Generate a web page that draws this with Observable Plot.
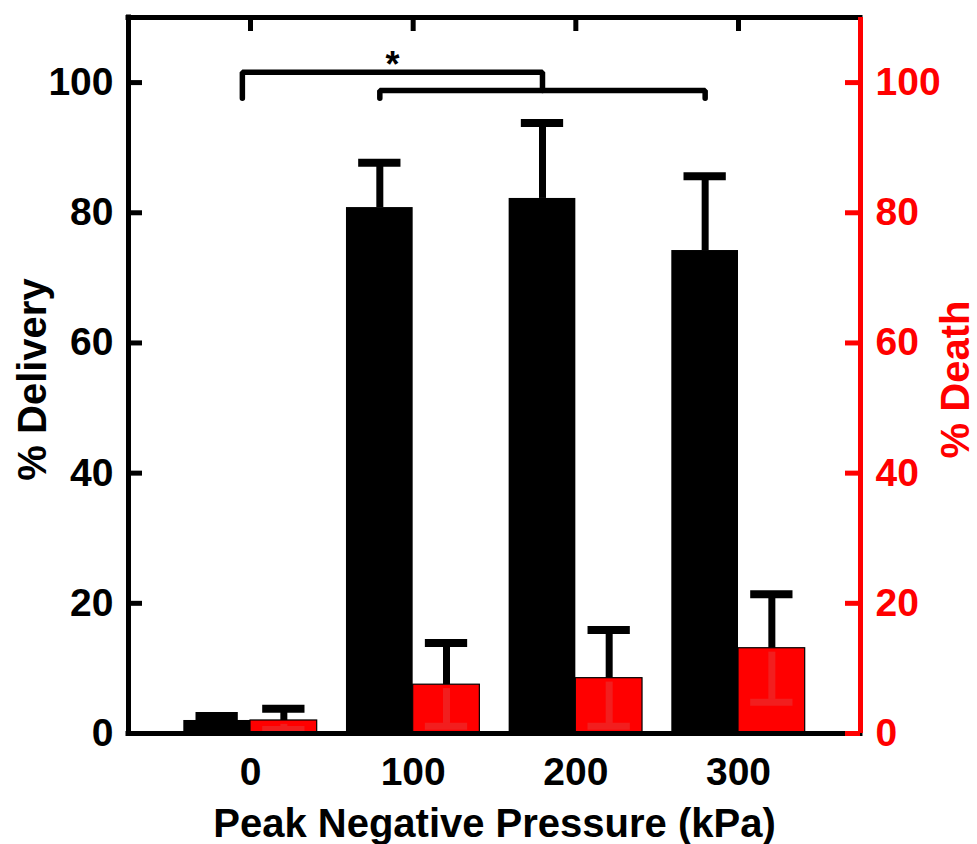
<!DOCTYPE html>
<html>
<head>
<meta charset="utf-8">
<script src="https://cdn.jsdelivr.net/npm/d3@7"></script>
<script src="https://cdn.jsdelivr.net/npm/@observablehq/plot@0.6"></script>
<style>
  html, body { margin: 0; padding: 0; background: #fff; }
  #chart { width: 977px; height: 844px; }
</style>
</head>
<body>
<div id="chart"></div>
<script>
// ---- data ----
const categories = ["0", "100", "200", "300"];
const delivery = [2.0, 80.8, 82.2, 74.2];
const deliveryErr = [0.7, 6.9, 11.6, 11.4];
const death = [2.0, 7.5, 8.5, 13.1];
const deathErr = [1.8, 6.4, 7.4, 8.3];
const yTicks = [0, 20, 40, 60, 80, 100];
const xTitle = "Peak Negative Pressure (kPa)";
const yLeftTitle = "% Delivery";
const yRightTitle = "% Death";
const brackets = [
  {fromCat: "0", fromBar: "center", toCat: "200", toBar: "delivery", level: 101.6, fromFoot: 97.6, toFoot: 98.8, label: "*"},
  {fromCat: "100", fromBar: "delivery", toCat: "300", toBar: "delivery", level: 98.8, fromFoot: 97.6, toFoot: 97.6, label: ""}
];

// ---- layout ----
const W = 977, H = 844;
const mL = 128, mR = 117, mT = 17, mB = 111;
const plotW = W - mL - mR, plotH = H - mT - mB;
const xDomain = [-0.75, 3.75];
const yDomain = [0, 110];
const barW = 0.41;
const capW = 0.13;
const RED = "#ff0000";
const LIGHTRED = "rgb(242,30,30)";
const FONT = "'Liberation Sans', Arial, Helvetica, sans-serif";

const rows = categories.map((c, i) => ({
  cat: c, i,
  del: delivery[i], delErr: deliveryErr[i],
  dth: death[i], dthErr: deathErr[i]
}));
const idx = c => categories.indexOf(c);
const barCenter = (c, which) => idx(c) + (which === "delivery" ? -barW / 2 : which === "death" ? barW / 2 : -0.05);

const bracketPts = [];
brackets.forEach((b, k) => {
  const xa = barCenter(b.fromCat, b.fromBar), xb = barCenter(b.toCat, b.toBar);
  bracketPts.push({k, x: xa, y: b.fromFoot}, {k, x: xa, y: b.level}, {k, x: xb, y: b.level}, {k, x: xb, y: b.toFoot});
});
const bracketLabels = brackets.filter(b => b.label).map(b => ({
  text: b.label,
  x: (barCenter(b.fromCat, b.fromBar) + barCenter(b.toCat, b.toBar)) / 2,
  y: b.level
}));

const chart = Plot.plot({
  width: W, height: H,
  marginLeft: mL, marginRight: mR, marginTop: mT, marginBottom: mB,
  style: {fontFamily: FONT, background: "#fff", overflow: "visible"},
  x: {domain: xDomain, axis: null},
  y: {domain: yDomain, axis: null},
  marks: [
    // black error bars (upper)
    Plot.ruleX(rows, {x: d => d.i - barW / 2, y1: d => d.del, y2: d => d.del + d.delErr, stroke: "black", strokeWidth: 7}),
    Plot.ruleY(rows, {y: d => d.del + d.delErr, x1: d => d.i - barW / 2 - capW, x2: d => d.i - barW / 2 + capW, stroke: "black", strokeWidth: 8}),
    // black bars
    Plot.rectY(rows, {x1: d => d.i - barW, x2: d => d.i, y1: 0, y2: d => d.del, fill: "black"}),
    // red error bars (upper, black)
    Plot.ruleX(rows, {x: d => d.i + barW / 2, y1: d => d.dth, y2: d => d.dth + d.dthErr, stroke: "black", strokeWidth: 7}),
    Plot.ruleY(rows, {y: d => d.dth + d.dthErr, x1: d => d.i + barW / 2 - capW, x2: d => d.i + barW / 2 + capW, stroke: "black", strokeWidth: 8}),
    // red bars
    Plot.rectY(rows, {x1: d => d.i, x2: d => d.i + barW, y1: 0, y2: d => d.dth, fill: RED, stroke: "black", strokeWidth: 1.2}),
    // lower whiskers inside red bars
    Plot.ruleX(rows, {x: d => d.i + barW / 2, y1: d => d.dth - 0.6, y2: d => Math.max(0.3, d.dth - d.dthErr), stroke: LIGHTRED, strokeWidth: 7}),
    Plot.ruleY(rows, {y: d => Math.max(0.6, d.dth - d.dthErr), x1: d => d.i + barW / 2 - capW, x2: d => d.i + barW / 2 + capW, stroke: LIGHTRED, strokeWidth: 7}),
    // frame
    Plot.ruleY([yDomain[1]], {stroke: "black", strokeWidth: 5, strokeLinecap: "square"}),
    Plot.ruleY([0], {stroke: "black", strokeWidth: 5, strokeLinecap: "square"}),
    Plot.ruleX([xDomain[0]], {stroke: "black", strokeWidth: 5, strokeLinecap: "square"}),
    Plot.ruleX([xDomain[1]], {stroke: RED, strokeWidth: 5}),
    // inward ticks
    Plot.ruleY(yTicks, {stroke: "black", strokeWidth: 5, insetRight: plotW - 14}),
    Plot.ruleY(yTicks, {stroke: RED, strokeWidth: 5, insetLeft: plotW - 15}),
    Plot.ruleX(categories.map((c, i) => i), {stroke: "black", strokeWidth: 5, insetBottom: plotH - 14}),
    // significance brackets
    Plot.line(bracketPts, {x: "x", y: "y", z: "k", stroke: "black", strokeWidth: 5.5, strokeLinejoin: "miter", strokeLinecap: "round"}),
    Plot.text(bracketLabels, {x: "x", y: "y", text: "text", lineAnchor: "top", dy: -21, fontSize: 36, fontWeight: "bold", fill: "black"}),
    // axes
    Plot.axisY({anchor: "left", ticks: yTicks, tickSize: 0, tickPadding: 15, fontSize: 39, fontWeight: "bold", fill: "black", label: null}),
    Plot.axisY({anchor: "right", ticks: yTicks, tickSize: 0, tickPadding: 15, fontSize: 39, fontWeight: "bold", fill: RED, label: null}),
    Plot.axisX({ticks: [0, 1, 2, 3], tickFormat: i => categories[i], tickSize: 0, tickPadding: 24, fontSize: 39, fontWeight: "bold", fill: "black", label: null}),
    // titles
    Plot.text([xTitle], {frameAnchor: "bottom", dy: 75, lineAnchor: "top", fontSize: 40, fontWeight: "bold", fill: "black"}),
    Plot.text([yLeftTitle], {frameAnchor: "left", dx: -95, dy: 4, rotate: -90, textAnchor: "middle", fontSize: 40, fontWeight: "bold", fill: "black"}),
    Plot.text([yRightTitle], {frameAnchor: "right", dx: 96, dy: 4, rotate: -90, textAnchor: "middle", fontSize: 40, fontWeight: "bold", fill: RED})
  ]
});
document.getElementById("chart").appendChild(chart);
</script>
</body>
</html>
